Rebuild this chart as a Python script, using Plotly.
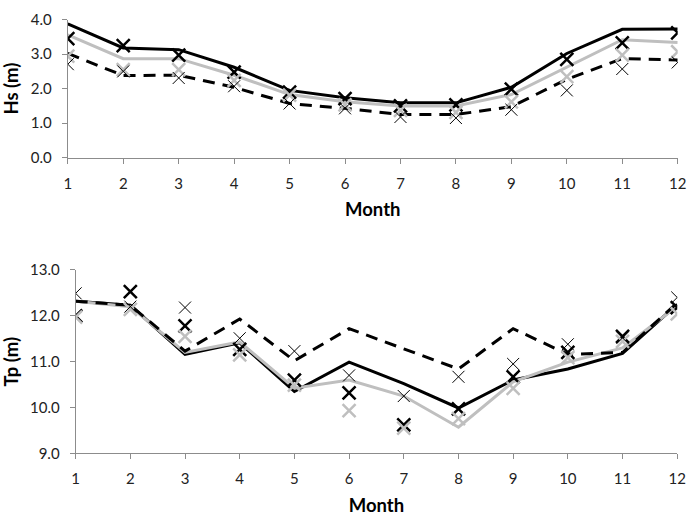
import plotly.graph_objects as go

months = list(range(1, 13))

# Hs (m) - upper panel
hs_black_line = [3.88, 3.18, 3.13, 2.62, 1.95, 1.74, 1.59, 1.59, 2.04, 3.02, 3.72, 3.73]
hs_gray_line = [3.56, 2.87, 2.87, 2.39, 1.83, 1.62, 1.50, 1.50, 1.83, 2.62, 3.42, 3.34]
hs_dash_line = [3.02, 2.38, 2.39, 2.04, 1.57, 1.43, 1.25, 1.25, 1.48, 2.27, 2.87, 2.83]
hs_black_x = [3.45, 3.25, 2.97, 2.48, 1.90, 1.71, 1.50, 1.53, 1.99, 2.85, 3.33, 3.62]
hs_gray_x = [2.94, 2.55, 2.55, 2.24, 1.81, 1.53, 1.37, 1.31, 1.62, 2.35, 2.97, 3.07]
hs_thin_x = [2.71, 2.50, 2.31, 2.07, 1.57, 1.43, 1.18, 1.15, 1.39, 1.95, 2.57, 2.76]

# Tp - lower panel
tp_black_line = [12.32, 12.23, 11.16, 11.41, 10.35, 10.99, 10.52, 9.99, 10.60, 10.84, 11.18, 12.25]
tp_gray_line = [12.32, 12.20, 11.20, 11.43, 10.42, 10.60, 10.25, 9.57, 10.56, 10.99, 11.30, 12.21]
tp_dash_line = [12.32, 12.23, 11.23, 11.93, 11.02, 11.72, 11.28, 10.84, 11.72, 11.16, 11.20, 12.28]
tp_black_x = [12.00, 12.53, 11.78, 11.27, 10.60, 10.32, 9.62, 9.97, 10.67, 11.20, 11.55, 12.18]
tp_gray_x = [11.97, 12.14, 11.55, 11.15, 10.49, 9.93, 9.55, 9.76, 10.42, 11.09, 11.44, 12.04]
tp_thin_x = [12.49, 12.20, 12.18, 11.51, 11.23, 10.70, 10.25, 10.67, 10.95, 11.38, 11.52, 12.40]

BLACK = '#000000'
GRAY = '#bfbfbf'
FONT = 'Lato'

fig = go.Figure()


def add_panel(fig, xa, ya, black_line, gray_line, dash_line, black_x, gray_x, thin_x):
    fig.add_trace(go.Scatter(x=months, y=black_line, mode='lines', xaxis=xa, yaxis=ya,
                             line=dict(color=BLACK, width=3)))
    fig.add_trace(go.Scatter(x=months, y=gray_line, mode='lines', xaxis=xa, yaxis=ya,
                             line=dict(color=GRAY, width=3)))
    fig.add_trace(go.Scatter(x=months, y=dash_line, mode='lines', xaxis=xa, yaxis=ya,
                             line=dict(color=BLACK, width=3, dash='12px,8px')))
    fig.add_trace(go.Scatter(x=months, y=black_x, mode='markers', xaxis=xa, yaxis=ya,
                             marker=dict(symbol='x-thin', size=13,
                                         line=dict(color=BLACK, width=2.5))))
    fig.add_trace(go.Scatter(x=months, y=gray_x, mode='markers', xaxis=xa, yaxis=ya,
                             marker=dict(symbol='x-thin', size=13,
                                         line=dict(color=GRAY, width=2.5))))
    fig.add_trace(go.Scatter(x=months, y=thin_x, mode='markers', xaxis=xa, yaxis=ya,
                             marker=dict(symbol='x-thin', size=12,
                                         line=dict(color=BLACK, width=1))))


add_panel(fig, 'x', 'y', hs_black_line, hs_gray_line, hs_dash_line, hs_black_x, hs_gray_x, hs_thin_x)
add_panel(fig, 'x2', 'y2', tp_black_line, tp_gray_line, tp_dash_line, tp_black_x, tp_gray_x, tp_thin_x)

tickfont = dict(family=FONT, size=15, color='#222222')
titlefont = dict(family=FONT, size=18.5, color='#000000')

axis_common = dict(showgrid=False, zeroline=False, showline=True, linecolor='#8c8c8c',
                   linewidth=1, ticks='outside', ticklen=5, tickcolor='#8c8c8c',
                   tickfont=tickfont, ticklabelstandoff=7)

fig.update_layout(
    width=698, height=519,
    margin=dict(l=0, r=0, t=0, b=0),
    paper_bgcolor='white', plot_bgcolor='white',
    showlegend=False,
    xaxis=dict(domain=[65 / 698, 686.5 / 698], range=[1, 12], tickvals=months,
               anchor='y', title=dict(text='<b>Month</b>', font=titlefont, standoff=12),
               **axis_common),
    yaxis=dict(domain=[1 - 153 / 519, 1 - 10 / 519], range=[0, 4], tickvals=[0, 1, 2, 3, 4],
               tickformat='.1f', anchor='x',
               title=dict(text='<b>Hs (m)</b>', font=titlefont, standoff=8),
               **axis_common),
    xaxis2=dict(domain=[73 / 698, 686 / 698], range=[1, 12], tickvals=months,
                anchor='y2', title=dict(text='<b>Month</b>', font=titlefont, standoff=12),
                **axis_common),
    yaxis2=dict(domain=[1 - 459.3 / 519, 1 - 269.3 / 519], range=[9, 13],
                tickvals=[9, 10, 11, 12, 13], tickformat='.1f', anchor='x2',
                title=dict(text='<b>Tp (m)</b>', font=titlefont, standoff=8),
                **axis_common),
)

fig.write_html("out.html", config={'displayModeBar': False},
               post_script="document.body.style.margin='0';document.body.style.padding='0';")
